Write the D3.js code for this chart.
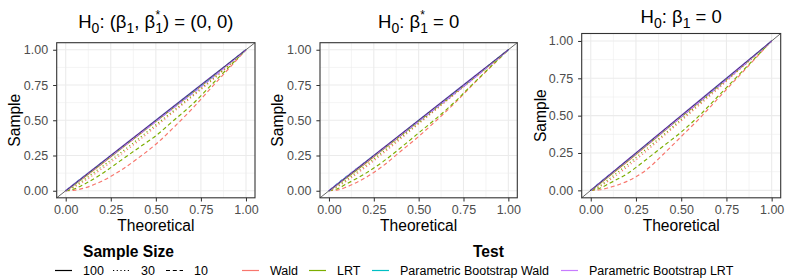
<!DOCTYPE html>
<html lang="en">
<head>
<meta charset="UTF-8">
<title>QQ plots of p-values</title>
<script src="https://cdn.jsdelivr.net/npm/d3@7"></script>
<style>
    body { margin: 0; background: #fff; }
    text { font-family: "Liberation Sans", Arial, Helvetica, sans-serif; }
    .tick text { fill: #4D4D4D; font-size: 12.5px; }
    .tick line { stroke: #333333; stroke-width: 1.05; }
</style>
</head>
<body>
<div id="chart"></div>
<script>
// theoretical quantiles where sample quantiles were read
const theoretical = [0, 0.05, 0.1, 0.2, 0.3, 0.4, 0.5, 0.6, 0.7, 0.8, 0.9, 1];
const tickValues = [0, 0.25, 0.5, 0.75, 1];
const tests = ["Wald", "LRT", "Parametric Bootstrap Wald", "Parametric Bootstrap LRT"];
const testColors = ["#F8766D", "#7CAE00", "#00BFC4", "#C77CFF"];
const sampleSizes = ["100", "30", "10"];

// panel 1: H0 (beta1, beta1*) = (0, 0); rows = n 100, 30, 10
const jointWald = [
    [0, 0.044, 0.092, 0.19, 0.29, 0.39, 0.49, 0.59, 0.69, 0.79, 0.895, 1],
    [0, 0.028, 0.066, 0.155, 0.25, 0.35, 0.455, 0.56, 0.665, 0.77, 0.88, 1],
    [0, 0.004, 0.018, 0.068, 0.14, 0.23, 0.33, 0.45, 0.58, 0.72, 0.86, 1]
];
const jointLRT = [
    [0, 0.046, 0.095, 0.194, 0.294, 0.394, 0.494, 0.594, 0.694, 0.795, 0.898, 1],
    [0, 0.034, 0.077, 0.17, 0.265, 0.365, 0.468, 0.57, 0.673, 0.777, 0.885, 1],
    [0, 0.014, 0.045, 0.12, 0.21, 0.3, 0.39, 0.5, 0.61, 0.74, 0.87, 1]
];
const jointPBWald = [
    [0, 0.05, 0.1, 0.2, 0.3, 0.4, 0.5, 0.6, 0.7, 0.8, 0.9, 1],
    [0, 0.051, 0.101, 0.199, 0.298, 0.398, 0.498, 0.598, 0.698, 0.798, 0.899, 1],
    [0, 0.052, 0.102, 0.198, 0.296, 0.395, 0.494, 0.593, 0.692, 0.792, 0.895, 1]
];
const jointPBLRT = [
    [0, 0.051, 0.101, 0.201, 0.301, 0.401, 0.501, 0.601, 0.701, 0.801, 0.9, 1],
    [0, 0.05, 0.1, 0.2, 0.299, 0.399, 0.499, 0.599, 0.699, 0.799, 0.899, 1],
    [0, 0.05, 0.099, 0.197, 0.295, 0.393, 0.49, 0.588, 0.686, 0.786, 0.892, 1]
];

// panel 2: H0 beta1* = 0
const starWald = [
    [0, 0.045, 0.093, 0.19, 0.29, 0.39, 0.49, 0.59, 0.69, 0.79, 0.895, 1],
    [0, 0.03, 0.07, 0.163, 0.263, 0.368, 0.474, 0.578, 0.683, 0.788, 0.893, 1],
    [0, 0.006, 0.028, 0.09, 0.175, 0.28, 0.385, 0.5, 0.62, 0.75, 0.875, 1]
];
const starLRT = [
    [0, 0.047, 0.095, 0.194, 0.294, 0.394, 0.494, 0.594, 0.694, 0.795, 0.897, 1],
    [0, 0.036, 0.08, 0.175, 0.275, 0.378, 0.48, 0.584, 0.688, 0.792, 0.896, 1],
    [0, 0.016, 0.05, 0.12, 0.205, 0.305, 0.41, 0.515, 0.628, 0.755, 0.878, 1]
];
const starPBWald = [
    [0, 0.05, 0.1, 0.2, 0.3, 0.4, 0.5, 0.6, 0.7, 0.8, 0.9, 1],
    [0, 0.052, 0.102, 0.2, 0.299, 0.398, 0.498, 0.598, 0.698, 0.798, 0.899, 1],
    [0, 0.054, 0.104, 0.2, 0.297, 0.395, 0.493, 0.592, 0.692, 0.792, 0.895, 1]
];
const starPBLRT = [
    [0, 0.051, 0.101, 0.201, 0.301, 0.401, 0.501, 0.601, 0.701, 0.801, 0.9, 1],
    [0, 0.05, 0.1, 0.2, 0.299, 0.399, 0.499, 0.599, 0.699, 0.799, 0.899, 1],
    [0, 0.05, 0.1, 0.198, 0.296, 0.394, 0.492, 0.59, 0.689, 0.789, 0.894, 1]
];

// panel 3: H0 beta1 = 0
const betaWald = [
    [0, 0.044, 0.092, 0.19, 0.29, 0.39, 0.49, 0.59, 0.69, 0.79, 0.895, 1],
    [0, 0.025, 0.064, 0.155, 0.255, 0.36, 0.465, 0.57, 0.675, 0.785, 0.89, 1],
    [0, 0.004, 0.018, 0.06, 0.13, 0.24, 0.36, 0.48, 0.61, 0.74, 0.87, 1]
];
const betaLRT = [
    [0, 0.046, 0.095, 0.194, 0.294, 0.394, 0.494, 0.594, 0.694, 0.795, 0.897, 1],
    [0, 0.03, 0.075, 0.17, 0.27, 0.37, 0.475, 0.58, 0.685, 0.79, 0.895, 1],
    [0, 0.014, 0.045, 0.11, 0.2, 0.295, 0.39, 0.5, 0.625, 0.75, 0.875, 1]
];
const betaPBWald = [
    [0, 0.05, 0.1, 0.2, 0.3, 0.4, 0.5, 0.6, 0.7, 0.8, 0.9, 1],
    [0, 0.051, 0.101, 0.199, 0.298, 0.398, 0.498, 0.598, 0.698, 0.798, 0.899, 1],
    [0, 0.052, 0.101, 0.198, 0.296, 0.395, 0.494, 0.593, 0.692, 0.793, 0.896, 1]
];
const betaPBLRT = [
    [0, 0.051, 0.101, 0.201, 0.301, 0.401, 0.501, 0.601, 0.701, 0.801, 0.9, 1],
    [0, 0.05, 0.1, 0.2, 0.299, 0.399, 0.499, 0.599, 0.699, 0.799, 0.899, 1],
    [0, 0.05, 0.1, 0.198, 0.296, 0.394, 0.492, 0.591, 0.69, 0.79, 0.895, 1]
];

const W = 789, H = 280;
const svg = d3.select("#chart").append("svg").attr("width", W).attr("height", H);

const dashFor = { "100": null, "30": "1.2,2.5", "10": "4,2.8" };

// panel layout (pixels)
const panels = [
    { left: 56.7, right: 255, top: 42.7, bottom: 197.8, titleY: 28, ylabX: 20,
      series: [jointWald, jointLRT, jointPBWald, jointPBLRT],
      title: [["H", "n"], ["0", "s"], [":  (", "n"], ["β", "n"], ["1", "s"], [", ", "n"], ["β", "n"], ["1", "ss"], [") = (0, 0)", "n"]] },
    { left: 320, right: 517.3, top: 42.7, bottom: 197.8, titleY: 28, ylabX: 283,
      series: [starWald, starLRT, starPBWald, starPBLRT],
      title: [["H", "n"], ["0", "s"], [":  ", "n"], ["β", "n"], ["1", "ss"], [" = 0", "n"]] },
    { left: 581.7, right: 780.7, top: 33.5, bottom: 197.8, titleY: 23, ylabX: 546,
      series: [betaWald, betaLRT, betaPBWald, betaPBLRT],
      title: [["H", "n"], ["0", "s"], [":  ", "n"], ["β", "n"], ["1", "s"], [" = 0", "n"]] }
];

function drawTitle(cx, y, parts) {
    const t = svg.append("text")
        .attr("x", cx).attr("y", y)
        .attr("text-anchor", "middle")
        .style("font-size", "18.5px")
        .attr("fill", "#000");
    let shift = 0, extraDx = 0;
    parts.forEach(([str, kind]) => {
        if (kind === "n") {
            t.append("tspan").attr("dy", -shift).attr("dx", extraDx).text(str);
            shift = 0; extraDx = 0;
        } else {
            t.append("tspan").attr("dy", 5 - shift).attr("dx", extraDx)
                .style("font-size", "14px").text(str);
            shift = 5; extraDx = 0;
            if (kind === "ss") {
                // star stacked above the subscript
                t.append("tspan").attr("dx", -7.6).attr("dy", -14)
                    .style("font-size", "12px").text("*");
                shift = -9;
                extraDx = 7.6 - 4.7;
            }
        }
    });
}

panels.forEach(p => {
    const x = d3.scaleLinear().domain([-0.05, 1.05]).range([p.left, p.right]);
    const y = d3.scaleLinear().domain([-0.05, 1.05]).range([p.bottom, p.top]);
    const g = svg.append("g");

    g.append("rect")
        .attr("x", p.left).attr("y", p.top)
        .attr("width", p.right - p.left).attr("height", p.bottom - p.top)
        .attr("fill", "#fff");

    // grid: minor then major
    const minor = [0.125, 0.375, 0.625, 0.875];
    minor.forEach(v => {
        g.append("line").attr("x1", x(v)).attr("x2", x(v)).attr("y1", p.top).attr("y2", p.bottom)
            .attr("stroke", "#EBEBEB").attr("stroke-width", 0.55);
        g.append("line").attr("y1", y(v)).attr("y2", y(v)).attr("x1", p.left).attr("x2", p.right)
            .attr("stroke", "#EBEBEB").attr("stroke-width", 0.55);
    });
    tickValues.forEach(v => {
        g.append("line").attr("x1", x(v)).attr("x2", x(v)).attr("y1", p.top).attr("y2", p.bottom)
            .attr("stroke", "#EBEBEB").attr("stroke-width", 1.1);
        g.append("line").attr("y1", y(v)).attr("y2", y(v)).attr("x1", p.left).attr("x2", p.right)
            .attr("stroke", "#EBEBEB").attr("stroke-width", 1.1);
    });

    const line = d3.line()
        .x(d => x(d[0]))
        .y(d => y(d[1]))
        .curve(d3.curveMonotoneX);

    p.series.forEach((rows, ti) => {
        rows.forEach((vals, si) => {
            const pts = theoretical.map((q, i) => [q, vals[i]]);
            g.append("path")
                .attr("d", line(pts))
                .attr("fill", "none")
                .attr("stroke", testColors[ti])
                .attr("stroke-width", 1.15)
                .attr("stroke-dasharray", dashFor[sampleSizes[si]]);
        });
    });

    // reference line y = x across the panel
    g.append("line")
        .attr("x1", x(-0.05)).attr("y1", y(-0.05))
        .attr("x2", x(1.05)).attr("y2", y(1.05))
        .attr("stroke", "#000").attr("stroke-width", 0.6);

    g.append("rect")
        .attr("x", p.left).attr("y", p.top)
        .attr("width", p.right - p.left).attr("height", p.bottom - p.top)
        .attr("fill", "none").attr("stroke", "#333333").attr("stroke-width", 1.1);

    const fmt = d3.format(".2f");
    const ax = g.append("g").attr("transform", `translate(0,${p.bottom})`)
        .call(d3.axisBottom(x).tickValues(tickValues).tickFormat(fmt).tickSize(3.6).tickPadding(4));
    const ay = g.append("g").attr("transform", `translate(${p.left},0)`)
        .call(d3.axisLeft(y).tickValues(tickValues).tickFormat(fmt).tickSize(3.6).tickPadding(5));
    ax.select(".domain").remove();
    ay.select(".domain").remove();
    ax.selectAll("text").style("font-size", "12.5px").attr("fill", "#4D4D4D");
    ay.selectAll("text").style("font-size", "12.5px").attr("fill", "#4D4D4D");

    svg.append("text")
        .attr("x", (p.left + p.right) / 2).attr("y", 231)
        .attr("text-anchor", "middle").style("font-size", "15.6px")
        .text("Theoretical");
    svg.append("text")
        .attr("transform", `translate(${p.ylabX},${(p.top + p.bottom) / 2}) rotate(-90)`)
        .attr("text-anchor", "middle").style("font-size", "15.6px")
        .text("Sample");

    drawTitle((p.left + p.right) / 2, p.titleY, p.title);
});

// legends
const legY = 275, keyY = 270.5;
svg.append("text").attr("x", 83).attr("y", 257)
    .style("font-size", "15.6px").style("font-weight", "bold").text("Sample Size");
const sizeKeyX = [55, 113, 166];
sampleSizes.forEach((s, i) => {
    svg.append("line").attr("x1", sizeKeyX[i]).attr("x2", sizeKeyX[i] + 17)
        .attr("y1", keyY).attr("y2", keyY)
        .attr("stroke", "#000").attr("stroke-width", 1.2)
        .attr("stroke-dasharray", dashFor[s]);
    svg.append("text").attr("x", sizeKeyX[i] + 28).attr("y", legY)
        .style("font-size", "12.5px").text(s);
});

svg.append("text").attr("x", 473).attr("y", 257)
    .style("font-size", "15.6px").style("font-weight", "bold").text("Test");
const testKeyX = [242, 309, 372, 561];
tests.forEach((t, i) => {
    svg.append("line").attr("x1", testKeyX[i]).attr("x2", testKeyX[i] + 17)
        .attr("y1", keyY).attr("y2", keyY)
        .attr("stroke", testColors[i]).attr("stroke-width", 1.2);
    svg.append("text").attr("x", testKeyX[i] + 28).attr("y", legY)
        .style("font-size", "12.5px").text(t);
});
</script>
</body>
</html>
